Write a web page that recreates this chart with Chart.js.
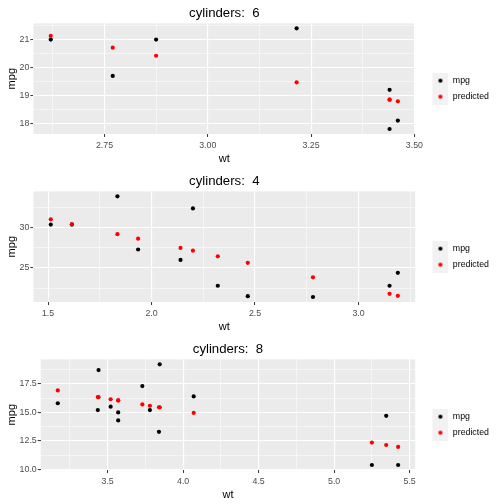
<!DOCTYPE html>
<html>
<head>
<meta charset="utf-8">
<script src="https://cdn.jsdelivr.net/npm/chart.js@4.4.0/dist/chart.umd.min.js"></script>
<style>
  html, body { margin: 0; padding: 0; background: #ffffff; }
  canvas { display: block; }
</style>
</head>
<body>
<canvas id="painel6" width="504" height="168"></canvas>
<canvas id="painel4" width="504" height="168"></canvas>
<canvas id="painel8" width="504" height="168"></canvas>
<script>
// mtcars por cilindros: peso (wt), consumo real (mpg) e valor previsto
const wt6 = [2.620, 2.875, 3.215, 3.440, 3.460, 3.440, 2.770];
const mpg6 = [21.0, 21.0, 21.4, 19.2, 18.1, 17.8, 19.7];
const pred6 = [21.13, 20.42, 19.47, 18.85, 18.79, 18.85, 20.71];

const wt4 = [2.320, 3.190, 3.150, 2.200, 1.615, 1.835, 2.465, 1.935, 2.140, 1.513, 2.780];
const mpg4 = [22.8, 24.4, 22.8, 32.4, 30.4, 33.9, 21.5, 27.3, 26.0, 30.4, 21.4];
const pred4 = [26.45, 21.55, 21.80, 27.15, 30.45, 29.20, 25.65, 28.65, 27.50, 31.05, 23.85];

const wt8 = [3.440, 3.570, 4.070, 3.730, 3.780, 5.250, 5.424, 5.345, 3.520, 3.435, 3.840, 3.845, 3.170, 3.570];
const mpg8 = [18.7, 14.3, 16.4, 17.3, 15.2, 10.4, 10.4, 14.7, 15.5, 15.2, 13.3, 19.2, 15.8, 15.0];
const pred8 = [16.33, 16.05, 14.95, 15.70, 15.58, 12.36, 11.98, 12.15, 16.15, 16.34, 15.45, 15.44, 16.92, 16.05];

// ticks (principais e secundarios)
const xTicks6 = [2.75, 3.00, 3.25, 3.50];
const xMinor6 = [2.625, 2.875, 3.125, 3.375];
const yTicks6 = [18, 19, 20, 21];
const yMinor6 = [18.5, 19.5, 20.5, 21.5];

const xTicks4 = [1.5, 2.0, 2.5, 3.0];
const xMinor4 = [1.75, 2.25, 2.75, 3.25];
const yTicks4 = [25, 30];
const yMinor4 = [22.5, 27.5, 32.5];

const xTicks8 = [3.5, 4.0, 4.5, 5.0, 5.5];
const xMinor8 = [3.25, 3.75, 4.25, 4.75, 5.25];
const yTicks8 = [10.0, 12.5, 15.0, 17.5];
const yMinor8 = [11.25, 13.75, 16.25, 18.75];

const FONTE = "'Liberation Sans', Arial, sans-serif";

// fundo cinza do painel
const fundoPainel = {
    id: 'fundoPainel',
    beforeDraw(chart) {
        const { ctx, chartArea: a } = chart;
        ctx.save();
        ctx.fillStyle = '#EBEBEB';
        ctx.fillRect(a.left, a.top, a.right - a.left, a.bottom - a.top);
        ctx.restore();
    }
};

// chave da legenda: margem transparente + quadrado cinza com o ponto
function chaveLegenda(cor) {
    const c = document.createElement('canvas');
    c.width = 26; c.height = 16;
    const g = c.getContext('2d');
    g.fillStyle = '#F2F2F2';
    g.fillRect(10, 0, 16, 16);
    g.fillStyle = cor;
    g.beginPath();
    g.arc(18, 8, 2.1, 0, Math.PI * 2);
    g.fill();
    return c;
}

function eixo(principais, secundarios, min, max, casas, titulo) {
    const todos = principais.concat(secundarios).sort((a, b) => a - b);
    const ehPrincipal = v => principais.some(p => Math.abs(p - v) < 1e-9);
    return {
        type: 'linear',
        min: min,
        max: max,
        afterBuildTicks: (scale) => { scale.ticks = todos.map(v => ({ value: v })); },
        grid: {
            color: '#FFFFFF',
            lineWidth: c => (c.tick && ehPrincipal(c.tick.value)) ? 1.1 : 0.5,
            drawTicks: true,
            tickLength: 3,
            tickColor: c => (c.tick && ehPrincipal(c.tick.value)) ? '#333333' : 'rgba(0,0,0,0)',
            tickWidth: 1
        },
        border: { display: false },
        ticks: {
            autoSkip: false,
            maxRotation: 0,
            padding: 1,
            color: '#4D4D4D',
            font: { family: FONTE, size: 8.8 },
            callback: v => ehPrincipal(v) ? Number(v).toFixed(casas) : ''
        },
        title: {
            display: true,
            text: titulo,
            color: '#000000',
            font: { family: FONTE, size: 11 }
        }
    };
}

function montarPainel(id, cil, wt, mpg, pred, cfg) {
    const pontosMpg = wt.map((x, i) => ({ x: x, y: mpg[i] }));
    const pontosPred = wt.map((x, i) => ({ x: x, y: pred[i] }));

    const xScale = eixo(cfg.xT, cfg.xM, cfg.xMin, cfg.xMax, cfg.xCasas, 'wt');
    xScale.ticks.padding = 3;
    xScale.title.padding = { top: -1.5, bottom: 0 };
    const yScale = eixo(cfg.yT, cfg.yM, cfg.yMin, cfg.yMax, cfg.yCasas, 'mpg');
    yScale.title.padding = { top: 1.4, bottom: 0 };

    return new Chart(document.getElementById(id).getContext('2d'), {
        type: 'scatter',
        data: {
            datasets: [
                { label: 'mpg', data: pontosMpg, backgroundColor: '#000000', borderWidth: 0, pointRadius: 2.1, order: 1 },
                { label: 'predicted', data: pontosPred, backgroundColor: '#FF0000', borderWidth: 0, pointRadius: 2.1, order: 0 }
            ]
        },
        options: {
            responsive: false,
            animation: false,
            events: [],
            layout: { padding: { top: 12, right: 5, bottom: 2.7, left: 4 } },
            scales: { x: xScale, y: yScale },
            plugins: {
                tooltip: { enabled: false },
                title: {
                    display: true,
                    text: 'cylinders:  ' + cil,
                    color: '#000000',
                    fullSize: false,
                    font: { family: FONTE, size: 13.2, weight: 'normal' },
                    padding: { top: -6.9, bottom: 2.4 }
                },
                legend: {
                    position: 'right',
                    align: 'center',
                    labels: {
                        usePointStyle: true,
                        pointStyleWidth: 26,
                        padding: 7.2,
                        color: '#000000',
                        font: { family: FONTE, size: 8.8 },
                        generateLabels: () => [
                            { text: 'mpg', pointStyle: chaveLegenda('#000000'), fillStyle: '#000', strokeStyle: '#000', lineWidth: 0, hidden: false, datasetIndex: 0 },
                            { text: 'predicted', pointStyle: chaveLegenda('#FF0000'), fillStyle: '#F00', strokeStyle: '#F00', lineWidth: 0, hidden: false, datasetIndex: 1 }
                        ]
                    }
                }
            }
        },
        plugins: [fundoPainel]
    });
}

montarPainel('painel6', 6, wt6, mpg6, pred6, {
    xT: xTicks6, xM: xMinor6, xMin: 2.578, xMax: 3.502, xCasas: 2,
    yT: yTicks6, yM: yMinor6, yMin: 17.62, yMax: 21.58, yCasas: 0
});
montarPainel('painel4', 4, wt4, mpg4, pred4, {
    xT: xTicks4, xM: xMinor4, xMin: 1.429, xMax: 3.274, xCasas: 1,
    yT: yTicks4, yM: yMinor4, yMin: 20.775, yMax: 34.525, yCasas: 0
});
montarPainel('painel8', 8, wt8, mpg8, pred8, {
    xT: xTicks8, xM: xMinor8, xMin: 3.057, xMax: 5.537, xCasas: 1,
    yT: yTicks8, yM: yMinor8, yMin: 9.96, yMax: 19.64, yCasas: 1
});
</script>
</body>
</html>
